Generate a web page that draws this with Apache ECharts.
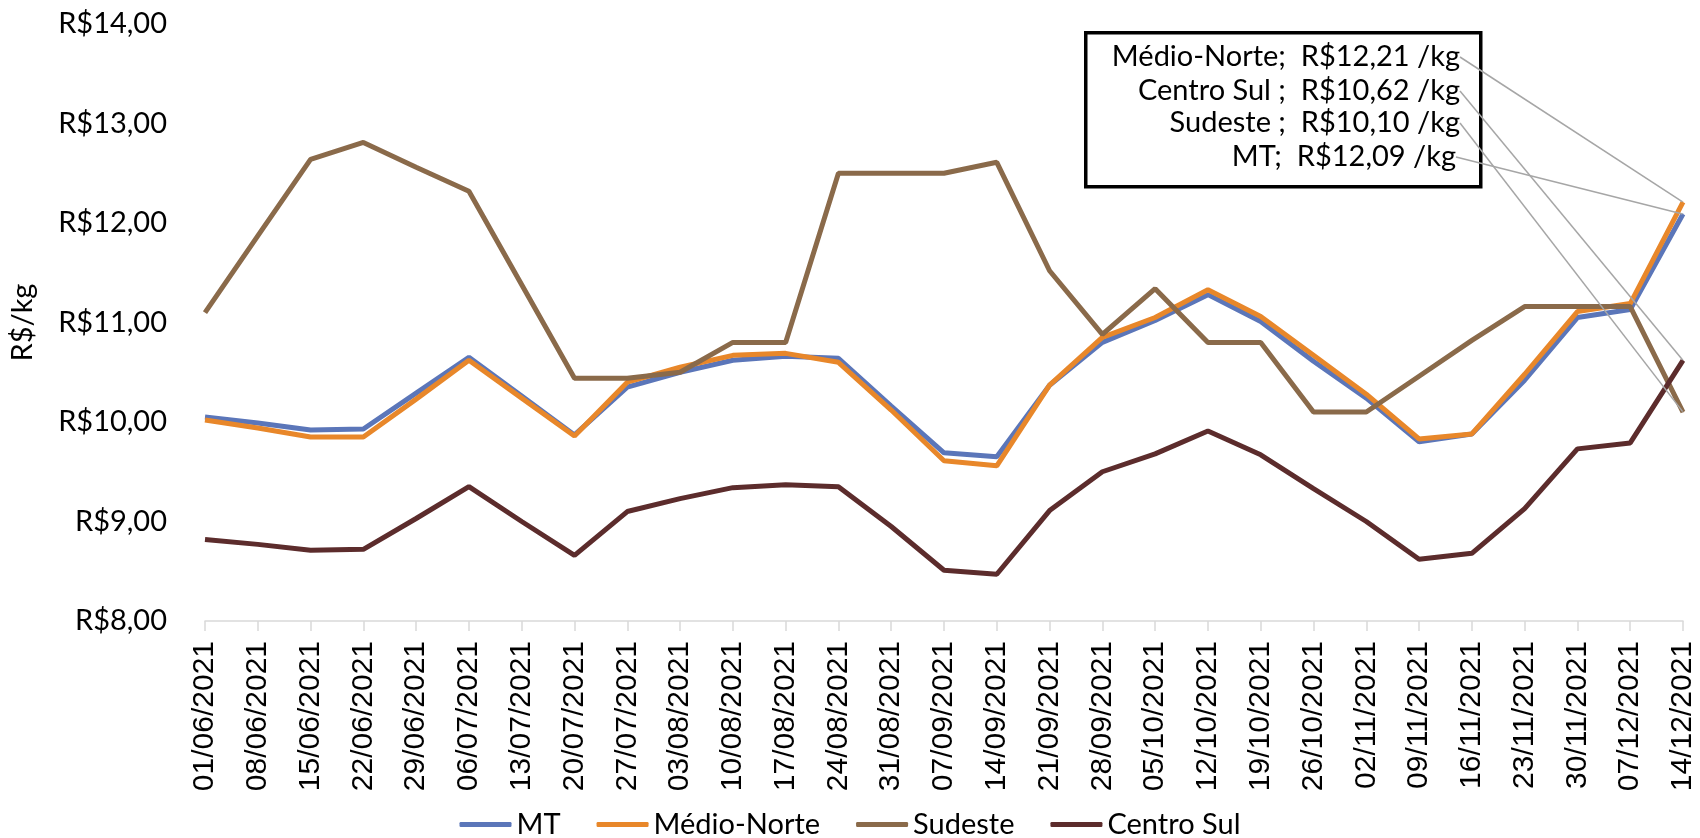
<!DOCTYPE html>
<html>
<head>
<meta charset="utf-8">
<script src="https://cdn.jsdelivr.net/npm/echarts@6/dist/echarts.min.js"></script>
<style>
  html, body { margin: 0; padding: 0; background: #fff; }
  #chart { width: 1700px; height: 838px; }
</style>
</head>
<body>
<div id="chart"></div>
<script>
var datas = ['01/06/2021','08/06/2021','15/06/2021','22/06/2021','29/06/2021','06/07/2021','13/07/2021',
  '20/07/2021','27/07/2021','03/08/2021','10/08/2021','17/08/2021','24/08/2021','31/08/2021',
  '07/09/2021','14/09/2021','21/09/2021','28/09/2021','05/10/2021','12/10/2021','19/10/2021',
  '26/10/2021','02/11/2021','09/11/2021','16/11/2021','23/11/2021','30/11/2021','07/12/2021','14/12/2021'];

var mt = [10.05, 9.99, 9.92, 9.93, 10.29, 10.65, 10.26, 9.87, 10.35, 10.50, 10.62, 10.66, 10.64, 10.16,
  9.69, 9.65, 10.37, 10.80, 11.02, 11.28, 11.01, 10.61, 10.24, 9.80, 9.88, 10.42, 11.05, 11.13, 12.09];
var medioNorte = [10.02, 9.94, 9.85, 9.85, 10.23, 10.62, 10.24, 9.86, 10.40, 10.55, 10.67, 10.69, 10.60, 10.12,
  9.61, 9.56, 10.37, 10.85, 11.05, 11.33, 11.06, 10.67, 10.28, 9.83, 9.88, 10.48, 11.11, 11.19, 12.21];
var sudeste = [11.10, 11.87, 12.64, 12.81, 12.56, 12.32, 11.38, 10.44, 10.44, 10.50, 10.80, 10.80, 12.50, 12.50,
  12.50, 12.61, 11.52, 10.88, 11.34, 10.80, 10.80, 10.10, 10.10, 10.46, 10.82, 11.16, 11.16, 11.16, 10.10];
var centroSul = [8.82, 8.77, 8.71, 8.72, 9.03, 9.35, 9.00, 8.66, 9.10, 9.23, 9.34, 9.37, 9.35, 8.95,
  8.51, 8.47, 9.11, 9.50, 9.68, 9.91, 9.67, 9.33, 9.00, 8.62, 8.68, 9.13, 9.73, 9.79, 10.62];

var nomes = ['MT', 'Médio-Norte', 'Sudeste', 'Centro Sul'];
var rotulos = ['MT;', 'Médio-Norte;', 'Sudeste ;', 'Centro Sul ;'];   // texto da caixa
var cores = ['#5b76b9', '#e8872a', '#8a6a4a', '#5c2c2c'];
var valores = [mt, medioNorte, sudeste, centroSul];

// posição (linha) de cada rótulo dentro da caixa
var linhaCaixa = [157, 57, 123, 91];
var direitaCaixa = [1462, 1466, 1466, 1466];

var fonte = 'Lato, "Open Sans", sans-serif';

function reais(v) {
  return 'R$' + v.toFixed(2).replace('.', ',');
}

var series = valores.map(function (vals, k) {
  var ultimo = vals.length - 1;
  return {
    name: nomes[k],
    type: 'line',
    symbol: 'none',
    data: vals.map(function (v, i) {
      // só o último ponto tem símbolo (invisível) para carregar o rótulo
      return i === ultimo ? {
        value: v,
        symbol: 'circle',
        symbolSize: 1,
        label: { show: true }
      } : v;
    }),
    lineStyle: { color: cores[k], width: 5 },
    itemStyle: { color: cores[k] },
    label: {
      show: false,
      formatter: function (p) { return rotulos[k] + '  ' + reais(p.value) + ' /kg'; },
      fontFamily: fonte,
      fontSize: 29,
      color: '#000',
      padding: [0, 6, 0, 0]
    },
    labelLayout: function (p) {
      return { x: direitaCaixa[k], y: linhaCaixa[k], align: 'right', verticalAlign: 'middle' };
    },
    labelLine: {
      show: true,
      length2: 0,
      lineStyle: { color: '#a6a6a6', width: 1.5 }
    },
    emphasis: { disabled: true }
  };
});

var chart = echarts.init(document.getElementById('chart'));
chart.setOption({
  animation: false,
  backgroundColor: '#fff',
  grid: { left: 200, right: 17, top: 24, bottom: 217 },
  legend: {
    data: nomes,
    left: 'center',
    top: 805,
    icon: 'roundRect',
    itemWidth: 52,
    itemHeight: 5,
    itemGap: 36,
    textStyle: { fontFamily: fonte, fontSize: 29, color: '#000' }
  },
  xAxis: {
    type: 'category',
    data: datas,
    boundaryGap: false,
    axisLine: { lineStyle: { color: '#d9d9d9', width: 1.5 } },
    axisTick: { show: true, length: 10, interval: 0, lineStyle: { color: '#d9d9d9', width: 1.5 } },
    axisLabel: {
      interval: 0,
      rotate: 90,
      margin: 20,
      fontFamily: '"Liberation Sans", Arial, sans-serif',
      fontSize: 30,
      color: '#000'
    },
    splitLine: { show: false }
  },
  yAxis: {
    type: 'value',
    min: 8,
    max: 14,
    interval: 1,
    name: 'R$/kg',
    nameLocation: 'middle',
    nameGap: 168,
    nameTextStyle: { fontFamily: fonte, fontSize: 29, color: '#000' },
    axisLine: { show: false },
    axisTick: { show: false },
    splitLine: { show: false },
    axisLabel: {
      margin: 38,
      fontFamily: fonte,
      fontSize: 29,
      color: '#000',
      formatter: function (v) { return reais(v); }
    }
  },
  graphic: [{
    type: 'rect',
    left: 1084,
    top: 31,
    z: 0,
    shape: { width: 395, height: 154 },
    style: { fill: '#fff', stroke: '#000', lineWidth: 3.5 }
  }],
  series: series
});
</script>
</body>
</html>
